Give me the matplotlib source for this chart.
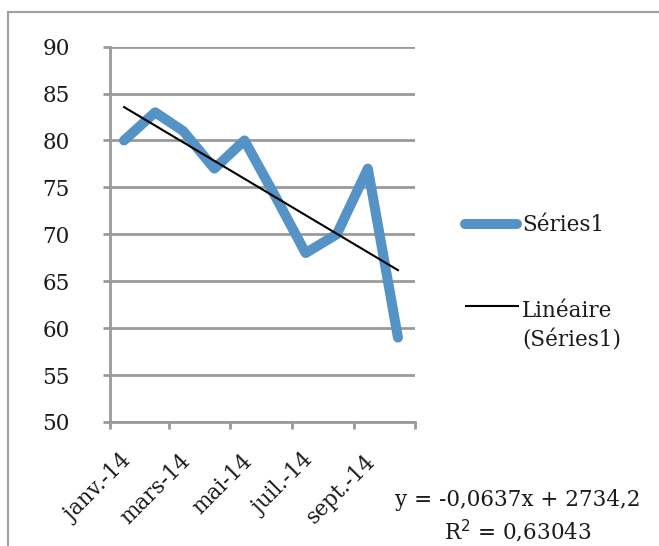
import numpy as np
import matplotlib
matplotlib.use("Agg")
import matplotlib.pyplot as plt
import matplotlib.dates as mdates
from matplotlib.lines import Line2D
from matplotlib.patches import Rectangle
from datetime import date

# ---- data ----
dates = [date(2014, m, 15) for m in range(1, 11)]
values = [80, 83, 81, 77, 80, 74, 68, 70, 77, 59]
tick_dates = [date(2014, 1, 1), date(2014, 3, 1), date(2014, 5, 1),
              date(2014, 7, 1), date(2014, 9, 1), date(2014, 11, 1)]
tick_labels = ["janv.-14", "mars-14", "mai-14", "juil.-14", "sept.-14", ""]
y_ticks = [50, 55, 60, 65, 70, 75, 80, 85, 90]
series_name = "Séries1"
trend_name = "Linéaire\n(Séries1)"
equation = "y = -0,0637x + 2734,2"
r2_text = "R$^2$ = 0,63043"

plt.rcParams['font.family'] = ['DejaVu Serif']
FS = 15.5
GRID = '#9a9a9a'
BLUE = '#5592C6'
TXT = '#1a1a1a'

fig = plt.figure(figsize=(6.59, 5.46), dpi=100)
W, H = 659, 546
PX = 0.72  # points per pixel at 100 dpi
ax = fig.add_axes([110 / W, 1 - 422 / H, (415 - 110) / W, (422 - 46.6) / H])

# border of chart area
fig.patches.append(Rectangle((8 / W, -0.1), 1.2, 1 - 12 / H + 0.1,
                             transform=fig.transFigure, fill=False,
                             edgecolor='#a0a0a0', linewidth=1.5))

xnum = mdates.date2num(dates)
ax.plot(xnum, values, color=BLUE, linewidth=7.2, solid_capstyle='round',
        solid_joinstyle='round', zorder=3)
coef = np.polyfit(xnum, values, 1)
ax.plot([xnum[0], xnum[-1]], np.polyval(coef, [xnum[0], xnum[-1]]),
        color='black', linewidth=1.5, zorder=4)

ax.set_xlim(mdates.date2num(tick_dates[0]), mdates.date2num(tick_dates[-1]))
ax.set_ylim(50, 90)
ax.set_yticks(y_ticks)
ax.set_yticklabels([str(v) for v in y_ticks], fontsize=FS)
ax.yaxis.grid(True, color=GRID, linewidth=2)
ax.set_axisbelow(True)

tnum = mdates.date2num(tick_dates)
ax.set_xticks(tnum)
ax.set_xticklabels([])
for tx, lab in zip(tnum, tick_labels):
    ax.annotate(lab, xy=(tx, 0), xycoords=('data', 'axes fraction'),
                xytext=(18 * PX, -36 * PX), textcoords='offset points',
                rotation=45, ha='right', va='center', rotation_mode='anchor',
                fontsize=FS, color=TXT, annotation_clip=False)

for s in ['top', 'right']:
    ax.spines[s].set_visible(False)
for s in ['left', 'bottom']:
    ax.spines[s].set_color(GRID)
    ax.spines[s].set_linewidth(2)
ax.tick_params(axis='y', length=5, width=2, color=GRID, pad=24, labelcolor=TXT)
ax.tick_params(axis='x', length=5, width=2, color=GRID)

# legend (drawn by hand to match the layout)
fig.add_artist(Line2D([465 / W, 517 / W], [1 - 224 / H, 1 - 224 / H],
                      transform=fig.transFigure, color=BLUE, linewidth=7.2,
                      solid_capstyle='round'))
fig.text(522 / W, 1 - 225 / H, series_name, ha='left', va='center',
         fontsize=FS, color=TXT)
fig.add_artist(Line2D([466 / W, 518 / W], [1 - 306 / H, 1 - 306 / H],
                      transform=fig.transFigure, color='black', linewidth=1.5))
fig.text(522 / W, 1 - 326 / H, trend_name, ha='left', va='center',
         fontsize=FS, color=TXT, linespacing=1.45)

fig.text(518 / W, 1 - 500 / H, equation, ha='center', va='center',
         fontsize=FS, color=TXT)
fig.text(518 / W, 1 - 531 / H, r2_text, ha='center', va='center',
         fontsize=FS, color=TXT)

fig.savefig('out.png', dpi=100)
